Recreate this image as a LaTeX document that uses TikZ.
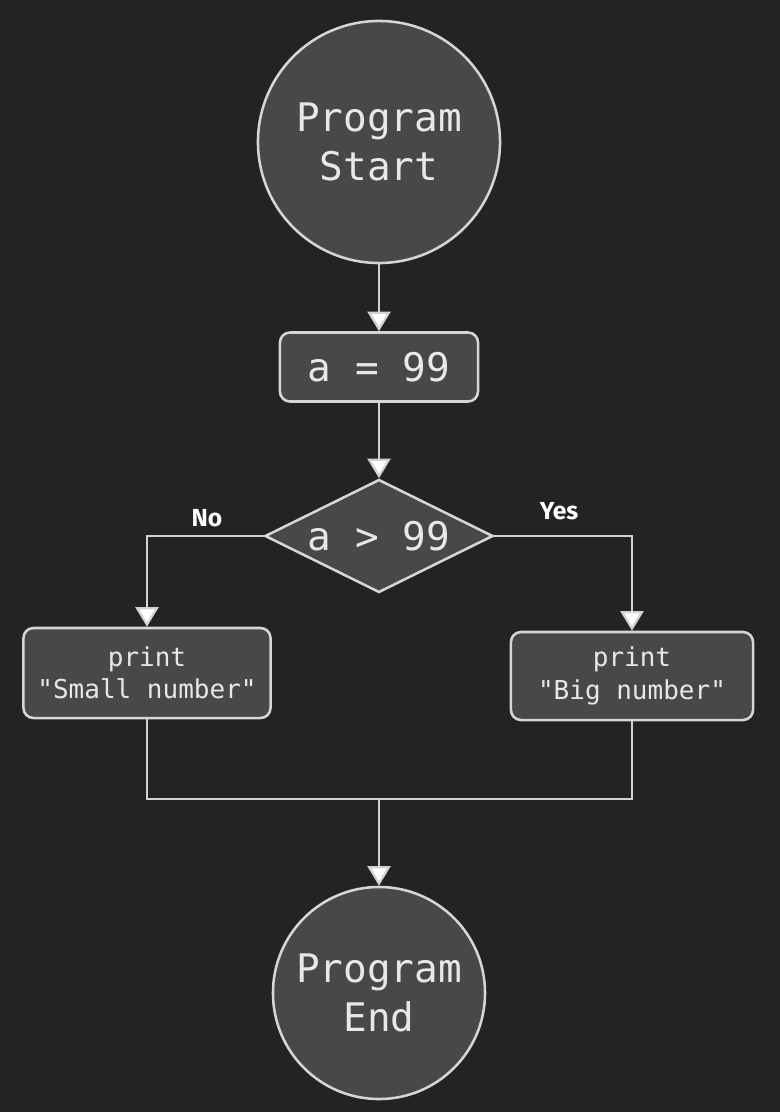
\documentclass[tikz,border=0pt]{standalone}
\usepackage{fontspec}
\setmonofont{DejaVu Sans Mono}
\newfontfamily\labelfont{Fira Sans}
\usetikzlibrary{positioning,arrows.meta,shapes.geometric}

\definecolor{bgcol}{HTML}{232224}
\definecolor{nodefill}{HTML}{484848}
\definecolor{nodeline}{HTML}{D6D6D6}
\definecolor{nodetext}{HTML}{E8E8E8}
\definecolor{edgecol}{HTML}{D2D2D2}

\begin{document}
\begin{tikzpicture}[x=0.025cm,y=-0.025cm]
  \tikzstyle{Terminal}=[circle,draw=nodeline,fill=nodefill,line width=1.8pt,
    text=nodetext,align=center,inner sep=0pt,
    font=\ttfamily\fontsize{28}{35}\selectfont]
  \tikzstyle{Process}=[rectangle,rounded corners=0.25cm,draw=nodeline,fill=nodefill,
    line width=1.8pt,text=nodetext,align=center,inner sep=0pt]
  \tikzstyle{Decision}=[diamond,aspect=2,draw=nodeline,fill=nodefill,line width=1.8pt,
    text=nodetext,inner sep=0pt,minimum width=5.7cm,minimum height=2.825cm,
    font=\ttfamily\fontsize{28}{35}\selectfont]
  \tikzstyle{BranchLabel}=[text=white,font=\labelfont\bfseries\fontsize{17.5}{20}\selectfont]
  \tikzstyle{EdgeStyle}=[draw=edgecol,line width=1.6pt]
  \tikzstyle{post}=[EdgeStyle,-{Triangle[width=16.5pt,length=14pt,fill=white]}]

  \fill[bgcol] (0,0) rectangle (780,1112);
  \useasboundingbox (0,0) rectangle (780,1112);

  \node[Terminal,minimum size=6.05cm] (start) at (379,142) {Program\\Start};
  \node[Process,minimum width=4.95cm,minimum height=1.725cm,
    font=\ttfamily\fontsize{28}{35}\selectfont] (assign) at (379,367) {a = 99};
  \node[Decision] (test) at (379,536) {a > 99};
  \node[Process,minimum width=6.175cm,minimum height=2.25cm,
    font=\ttfamily\fontsize{18.5}{23}\selectfont] (small) at (147,673) {print\\"Small number"};
  \node[Process,minimum width=6.05cm,minimum height=2.2cm,
    font=\ttfamily\fontsize{18.5}{23}\selectfont] (big) at (632,676) {print\\"Big number"};
  \node[Terminal,minimum size=5.3cm] (finish) at (379,993) {Program\\End};

  \node[BranchLabel] (no) at (207,518) {No};
  \node[BranchLabel] (yes) at (559,511) {Yes};
  \coordinate (merge) at (379,799);

  \draw[post] (start) -- (assign);
  \draw[post] (assign) -- (test);
  \draw[post] (test.west) -| (small.north);
  \draw[post] (test.east) -| (big.north);
  \draw[EdgeStyle] (small.south) |- (merge) -| (big.south);
  \draw[post] (merge) -- (finish);
\end{tikzpicture}
\end{document}
